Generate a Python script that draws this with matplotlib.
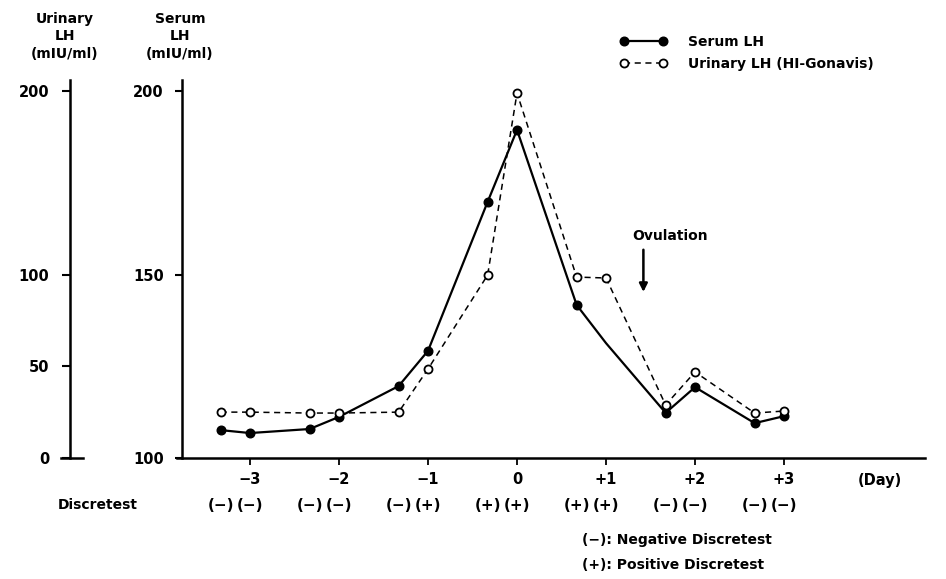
import matplotlib
matplotlib.use("Agg")
import matplotlib.pyplot as plt
from matplotlib.lines import Line2D
from matplotlib.transforms import blended_transform_factory
import numpy as np

plt.rcParams['font.family'] = ['DejaVu Sans']
plt.rcParams['font.weight'] = 'bold'
plt.rcParams['font.size'] = 10

# sample times (days relative to LH peak)
days = [-3.33, -3, -2.33, -2, -1.33, -1, -0.33, 0, 0.67, 1, 1.67, 2, 2.67, 3]
serum_lh = [107.6, 106.8, 107.9, 111.2, 119.6, 129.2, 169.8, 189.4, 141.7, 131.3, 112.3, 119.3, 109.5, 111.4]
serum_marked = [0, 1, 2, 3, 4, 5, 6, 7, 8, 10, 11, 12, 13]   # no dot at day +1
urinary_lh = [25, 25, 24.5, 24.5, 25, 48.5, 99.7, 198.9, 98.6, 98.1, 28.9, 46.9, 24.5, 25.6]
discretest = ['−', '−', '−', '−', '−', '+', '+', '+', '+', '+', '−', '−', '−', '−']

day_ticks = [-3, -2, -1, 0, 1, 2, 3]
day_labels = ['−3', '−2', '−1', '0', '+1', '+2', '+3']
serum_ticks = [100, 150, 200]
urinary_ticks = [0, 50, 100, 200]

W, H = 946, 579
def fx(px):
    return px / W
def fy(py):
    return 1 - py / H

fig = plt.figure(figsize=(W / 100, H / 100), dpi=100)
bottom = fy(458)
top = fy(80)
ax = fig.add_axes([fx(182), bottom, fx(925) - fx(182), top - bottom])
ax.set_xlim(-3.764, 4.584)
ax.set_ylim(100, 203)
for s in ['top', 'right']:
    ax.spines[s].set_visible(False)
for s in ['left', 'bottom']:
    ax.spines[s].set_linewidth(1.8)
ax.spines['bottom'].set_bounds(-3.82, 4.584)

ax.set_xticks(day_ticks)
ax.set_xticklabels(day_labels, fontsize=10.5, fontweight='bold')
ax.tick_params(axis='x', direction='out', length=5, width=1.3, pad=5)
ax.set_yticks(serum_ticks)
ax.set_yticklabels([str(v) for v in serum_ticks], fontsize=10.5, fontweight='bold')
ax.tick_params(axis='y', direction='out', length=5, width=1.5, pad=8)

# urinary data drawn on a twin scale sharing the day axis
axu = ax.twinx()
axu.set_ylim(0, 206)
axu.axis('off')

ax.plot(days, serum_lh, color='black', lw=1.6, marker='o', ms=6.2,
        markevery=serum_marked, mfc='black', mec='black', zorder=3)
axu.plot(days, urinary_lh, color='black', lw=1.1, ls=(0, (4, 3)), marker='o', ms=5.8,
         mfc='white', mec='black', mew=1.3, zorder=4)

# separate urinary axis on the far left
ax2 = fig.add_axes([fx(70), bottom, 0.0005, top - bottom])
ax2.set_ylim(0, 206)
for s in ['top', 'right', 'bottom']:
    ax2.spines[s].set_visible(False)
ax2.spines['left'].set_linewidth(1.8)
ax2.set_xticks([])
ax2.set_yticks(urinary_ticks)
ax2.set_yticklabels([str(v) for v in urinary_ticks], fontsize=10.5, fontweight='bold')
ax2.tick_params(axis='y', direction='out', length=6, width=1.5, pad=9)
fig.add_artist(Line2D([fx(61), fx(83)], [bottom, bottom], color='black', lw=1.8))

# axis headers
fig.text(fx(65), fy(12), 'Urinary\nLH\n(mIU/ml)', ha='center', va='top',
         multialignment='center', linespacing=1.3, fontsize=10)
fig.text(fx(180), fy(12), 'Serum\nLH\n(mIU/ml)', ha='center', va='top',
         multialignment='center', linespacing=1.3, fontsize=10)

# legend
handles = [Line2D([], [], color='black', lw=1.6, marker='o', ms=6.2, mfc='black'),
           Line2D([], [], color='black', lw=1.1, ls=(0, (4, 3)), marker='o', ms=5.8,
                  mfc='white', mew=1.3)]
fig.legend(handles, ['Serum LH', 'Urinary LH (HI-Gonavis)'], loc='upper left',
           bbox_to_anchor=(fx(620), fy(35)), frameon=False, numpoints=2,
           handlelength=3.4, handletextpad=1.5, labelspacing=0.6,
           borderpad=0, borderaxespad=0, prop={'weight': 'bold', 'size': 10})

# ovulation marker
ax.annotate('', xy=(1.42, 144.5), xytext=(1.42, 157.5),
            arrowprops=dict(arrowstyle='-|>', lw=1.8, color='black', mutation_scale=12))
ax.text(1.30, 160.5, 'Ovulation', ha='left', va='center', fontsize=10, fontweight='bold')

fig.text(fx(880), fy(481), '(Day)', ha='center', va='center', fontsize=10.5)

# Discretest row
tr = blended_transform_factory(ax.transData, fig.transFigure)
fig.text(fx(58), fy(505), 'Discretest', ha='left', va='center', fontsize=10)
for d, r in zip(days, discretest):
    ax.text(d, fy(505), '(' + r + ')', transform=tr, ha='center', va='center',
            fontsize=11, fontweight='bold', clip_on=False)

fig.text(fx(582), fy(540), '(−): Negative Discretest', ha='left', va='center', fontsize=10)
fig.text(fx(582), fy(565), '(+): Positive Discretest', ha='left', va='center', fontsize=10)

fig.savefig('out.png', dpi=100)
